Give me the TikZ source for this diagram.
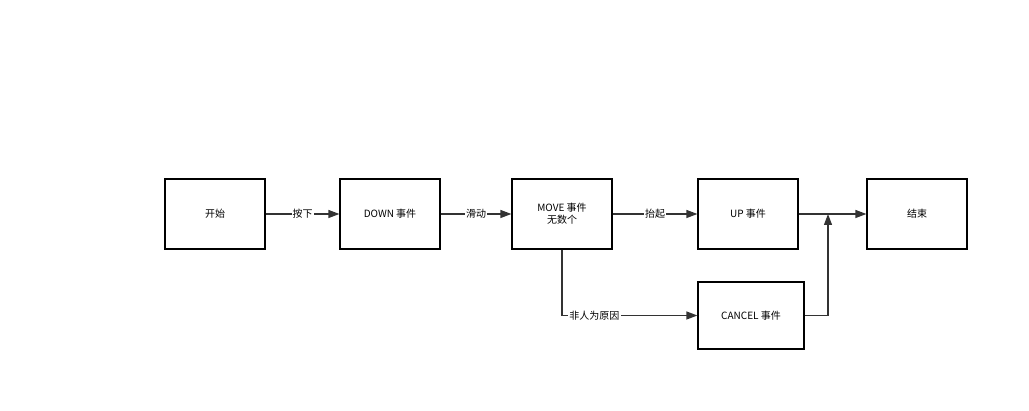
\documentclass[tikz,border=0pt]{standalone}
\usepackage{fontspec}
\setmainfont{Noto Sans CJK SC}
\usetikzlibrary{arrows.meta}
\begin{document}
\begin{tikzpicture}[x=1pt,y=-1pt,
  box/.style={draw,line width=1.2pt,minimum width=100pt,minimum height=70pt,inner sep=0pt,font=\fontsize{10}{12}\selectfont,align=center},
  lab/.style={fill=white,inner sep=1pt,font=\fontsize{10}{12}\selectfont},
  arr/.style={draw=black!80,line width=1.2pt,-{Triangle[length=11pt,width=8pt]}}]
\useasboundingbox (0,0) rectangle (1029,411);
\node[box] (s) at (215,214) {开始};
\node[box] (d) at (390,214) {DOWN 事件};
\node[box] (m) at (562,214) {MOVE 事件\\无数个};
\node[box] (u) at (748,214) {UP 事件};
\node[box] (e) at (917,214) {结束};
\node[box,minimum width=106pt,minimum height=67pt] (c) at (751,315.5) {CANCEL 事件};
\coordinate (j) at (828,214);
\draw[arr] (s) -- node[lab]{按下} (d);
\draw[arr] (d) -- node[lab]{滑动} (m);
\draw[arr] (m) -- node[lab]{抬起} (u);
\draw[arr] (u) -- (e);
\draw[arr] (m.south) |- node[lab,pos=0.62]{非人为原因} (c.west);
\draw[arr] (c.east) -| (j);
\end{tikzpicture}
\end{document}
